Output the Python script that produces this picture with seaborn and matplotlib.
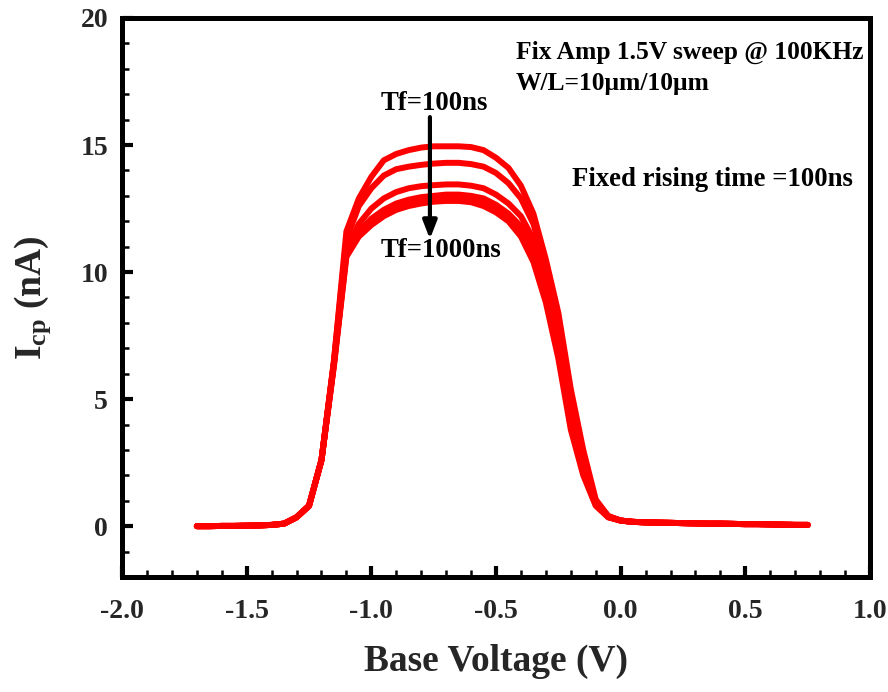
import numpy as np
import pandas as pd
import matplotlib
matplotlib.use("Agg")
import matplotlib.pyplot as plt
import seaborn as sns

# Shared sub-threshold tail on the left (V, nA)
left_v = [-1.70, -1.65, -1.60, -1.55, -1.50, -1.45, -1.40, -1.35, -1.30, -1.25, -1.20]
left_i = [0.00, 0.00, 0.01, 0.01, 0.02, 0.03, 0.05, 0.10, 0.35, 0.80, 2.60]

# Shared accumulation tail on the right (V, nA)
right_v = [0.00, 0.05, 0.10, 0.15, 0.20, 0.25, 0.30, 0.35, 0.40, 0.45,
           0.50, 0.55, 0.60, 0.65, 0.70, 0.75]
right_i = [0.22, 0.17, 0.15, 0.14, 0.13, 0.12, 0.11, 0.10, 0.10, 0.09,
           0.08, 0.08, 0.07, 0.06, 0.05, 0.05]

# Charge-pumping plateau region, one series per falling time
mid_v = [-1.15, -1.10, -1.05, -1.00, -0.95, -0.90, -0.85, -0.80, -0.75, -0.70,
         -0.65, -0.60, -0.55, -0.50, -0.45, -0.40, -0.35, -0.30, -0.25, -0.20,
         -0.15, -0.10, -0.05]
icp_tf100 = [6.5, 11.6, 12.9, 13.75, 14.4, 14.65, 14.8, 14.9, 14.95, 14.95,
             14.95, 14.92, 14.8, 14.5, 14.1, 13.4, 12.3, 10.5, 8.4, 5.4,
             3.0, 1.05, 0.40]
icp_tf200 = [6.5, 11.3, 12.6, 13.3, 13.8, 14.05, 14.15, 14.22, 14.27, 14.3,
             14.3, 14.25, 14.15, 13.9, 13.5, 12.9, 11.9, 10.2, 8.1, 5.1,
             2.8, 1.0, 0.40]
icp_tf400 = [6.4, 10.9, 11.9, 12.5, 12.9, 13.15, 13.3, 13.38, 13.42, 13.45,
             13.45, 13.4, 13.3, 13.05, 12.7, 12.2, 11.3, 9.7, 7.6, 4.7,
             2.5, 0.95, 0.38]
icp_tf600 = [6.4, 10.8, 11.6, 12.1, 12.45, 12.7, 12.85, 12.95, 13.0, 13.05,
             13.05, 13.0, 12.9, 12.65, 12.3, 11.8, 10.9, 9.3, 7.2, 4.3,
             2.3, 0.9, 0.36]
icp_tf800 = [6.4, 10.7, 11.5, 11.95, 12.3, 12.55, 12.72, 12.82, 12.88, 12.9,
             12.9, 12.85, 12.75, 12.5, 12.15, 11.6, 10.6, 9.0, 6.9, 4.0,
             2.1, 0.85, 0.35]
icp_tf1000 = [6.3, 10.6, 11.4, 11.85, 12.2, 12.45, 12.6, 12.7, 12.77, 12.8,
              12.8, 12.75, 12.6, 12.35, 12.0, 11.4, 10.4, 8.8, 6.6, 3.8,
              2.0, 0.8, 0.35]

fall_times = ["100ns", "200ns", "400ns", "600ns", "800ns", "1000ns"]
mid_series = [icp_tf100, icp_tf200, icp_tf400, icp_tf600, icp_tf800, icp_tf1000]

x_ticks = [-2.0, -1.5, -1.0, -0.5, 0.0, 0.5, 1.0]
y_ticks = [0, 5, 10, 15, 20]

rows = []
for tf, mid in zip(fall_times, mid_series):
    vs = left_v + mid_v + right_v
    cs = left_i + mid + right_i
    for v, c in zip(vs, cs):
        rows.append({"Vbase": v, "Icp": c, "Tf": tf})
df = pd.DataFrame(rows)

sns.set_theme(style="ticks")
serif = ["Liberation Serif", "DejaVu Serif"]
plt.rcParams["font.family"] = serif
plt.rcParams["font.weight"] = "bold"
plt.rcParams["mathtext.fontset"] = "custom"
plt.rcParams["mathtext.rm"] = "Liberation Serif:bold"
plt.rcParams["mathtext.it"] = "Liberation Serif:bold"
plt.rcParams["mathtext.bf"] = "Liberation Serif:bold"

fig = plt.figure(figsize=(8.88, 6.92), dpi=100)
ax = fig.add_axes([0.1374, 0.1662, 0.8423, 0.8078])

sns.lineplot(data=df, x="Vbase", y="Icp", hue="Tf", hue_order=fall_times,
             palette=["#ff0000"] * len(fall_times), linewidth=4.3,
             legend=False, sort=False, estimator=None, ax=ax,
             solid_capstyle="round", solid_joinstyle="round")

ax.set_xlim(-2.0, 1.0)
ax.set_ylim(-2.0, 20.0)
ax.set_xticks(x_ticks)
ax.set_xticklabels([f"{t:.1f}" for t in x_ticks])
ax.set_yticks(y_ticks)
ax.set_xticks(np.arange(-2.0, 1.001, 0.1), minor=True)
ax.set_yticks(np.arange(-2, 20.01, 1), minor=True)

for s in ax.spines.values():
    s.set_linewidth(3.6)
    s.set_color("black")
ax.tick_params(which="major", direction="in", length=8, width=3.0,
               labelsize=20, top=False, right=False, color="black")
ax.tick_params(which="minor", direction="in", length=5, width=1.8,
               top=False, right=False, color="black")
ax.tick_params(axis="x", which="major", pad=16)
ax.tick_params(axis="y", which="major", pad=10)
for lab in ax.get_xticklabels() + ax.get_yticklabels():
    lab.set_fontweight("bold")

ax.set_xlabel("Base Voltage (V)", fontsize=27, fontweight="bold", labelpad=14)
ax.set_ylabel(r"$\mathregular{I_{cp}}$ (nA)", fontsize=27, fontweight="bold",
              labelpad=20)

txt = dict(fontweight="bold", color="black", va="baseline", ha="left")
ax.text(-0.42, 18.4, "Fix Amp 1.5V sweep @ 100KHz", fontsize=18.4, **txt)
ax.text(-0.42, 17.15, "W/L=10\u03bcm/10\u03bcm", fontsize=18.4, **txt)
ax.text(-0.195, 13.37, "Fixed rising time =100ns", fontsize=19.3, **txt)
ax.text(-0.961, 16.37, "Tf=100ns", fontsize=19.3, **txt)
ax.text(-0.961, 10.6, "Tf=1000ns", fontsize=19.3, **txt)

ax.annotate("", xy=(-0.765, 11.3), xytext=(-0.765, 16.1),
            arrowprops=dict(arrowstyle="-|>,head_length=0.9,head_width=0.35",
                            color="black", lw=3.0, shrinkA=0, shrinkB=0))

fig.savefig("out.png", dpi=100)
